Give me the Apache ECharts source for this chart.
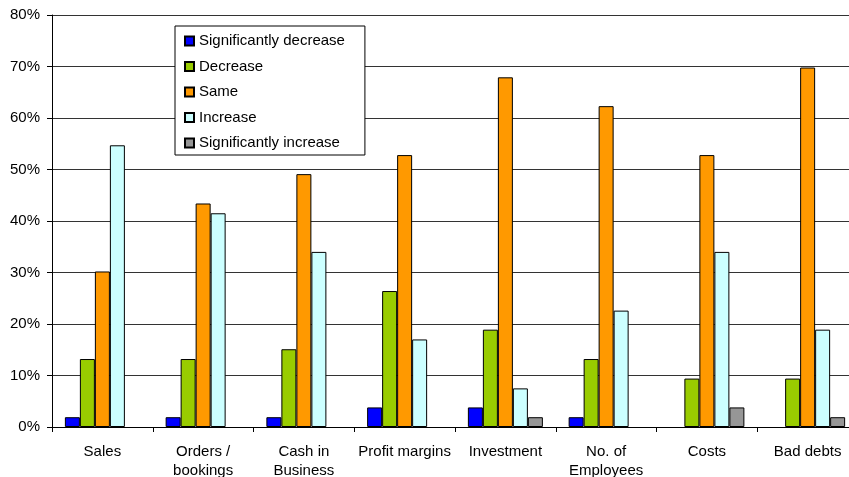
<!DOCTYPE html>
<html>
<head>
<meta charset="utf-8">
<script src="https://cdn.jsdelivr.net/npm/echarts@6/dist/echarts.min.js"></script>
<style>
  html, body { margin: 0; padding: 0; background: #fff; overflow: hidden; }
  #frame { width: 849px; height: 477px; overflow: hidden; position: relative; }
  #chart { position: absolute; left: 0; top: 0; width: 859px; height: 477px; }
</style>
</head>
<body>
<div id="frame"><div id="chart"></div></div>
<script>
// Business indicators: share of respondents expecting each change (%)
const categories = ['Sales', 'Orders /\nbookings', 'Cash in\nBusiness', 'Profit margins',
  'Investment', 'No. of\nEmployees', 'Costs', 'Bad debts'];

const seriesNames = ['Significantly decrease', 'Decrease', 'Same', 'Increase', 'Significantly increase'];

const sigDecrease = [1.9, 1.9, 1.9, 3.8, 3.8, 1.9, 0, 0];
const decrease    = [13.2, 13.2, 15.1, 26.4, 18.9, 13.2, 9.4, 9.4];
const same        = [30.2, 43.4, 49.1, 52.8, 67.9, 62.3, 52.8, 69.8];
const increase    = [54.7, 41.5, 34.0, 17.0, 7.5, 22.6, 34.0, 18.9];
const sigIncrease = [0, 0, 0, 0, 1.9, 0, 3.8, 1.9];

const yTicks = { min: 0, max: 80, interval: 10 };

const colors = ['#0000FF', '#99CC00', '#FF9900', '#CCFFFF', '#969696'];
const seriesData = [sigDecrease, decrease, same, increase, sigIncrease];

const font = '"Liberation Sans", Arial, sans-serif';

const chart = echarts.init(document.getElementById('chart'), null, { renderer: 'canvas' });

chart.setOption({
  animation: false,
  backgroundColor: '#ffffff',
  textStyle: { fontFamily: font, color: '#000' },
  // the plot runs slightly past the right edge of the visible frame;
  // the two-line category labels are allowed to run off the bottom
  grid: {
    left: 52, right: 1, top: 15, bottom: 50,
    containLabel: false,
    outerBoundsMode: 'none'
  },
  legend: {
    orient: 'vertical',
    left: 175,
    top: 26,
    padding: [7, 20, 4, 9],
    backgroundColor: '#ffffff',
    borderColor: '#000000',
    borderWidth: 1,
    borderRadius: 0,
    itemWidth: 9,
    itemHeight: 9,
    itemGap: 9.5,
    icon: 'rect',
    textStyle: { fontFamily: font, fontSize: 15, color: '#000', lineHeight: 16 },
    data: seriesNames
  },
  xAxis: {
    type: 'category',
    data: categories,
    axisLine: { lineStyle: { color: '#000', width: 1 } },
    axisTick: { show: true, alignWithLabel: false, length: 5, lineStyle: { color: '#000' } },
    axisLabel: {
      interval: 0,
      margin: 15,
      fontFamily: font,
      fontSize: 15,
      lineHeight: 19.5,
      color: '#000'
    },
    splitLine: { show: false }
  },
  yAxis: {
    type: 'value',
    min: yTicks.min,
    max: yTicks.max,
    interval: yTicks.interval,
    axisLine: { show: true, lineStyle: { color: '#000', width: 1 } },
    axisTick: { show: true, length: 5, lineStyle: { color: '#000' } },
    axisLabel: {
      formatter: '{value}%',
      margin: 12,
      fontFamily: font,
      fontSize: 15,
      color: '#000'
    },
    splitLine: { show: true, lineStyle: { color: '#333', width: 1 } }
  },
  series: seriesNames.map((name, i) => ({
    name: name,
    type: 'bar',
    barWidth: 15,
    barGap: '0%',
    itemStyle: { color: colors[i], borderColor: '#000', borderWidth: 1 },
    data: seriesData[i].map(v => (v === 0 ? '-' : v))
  }))
});
</script>
</body>
</html>
